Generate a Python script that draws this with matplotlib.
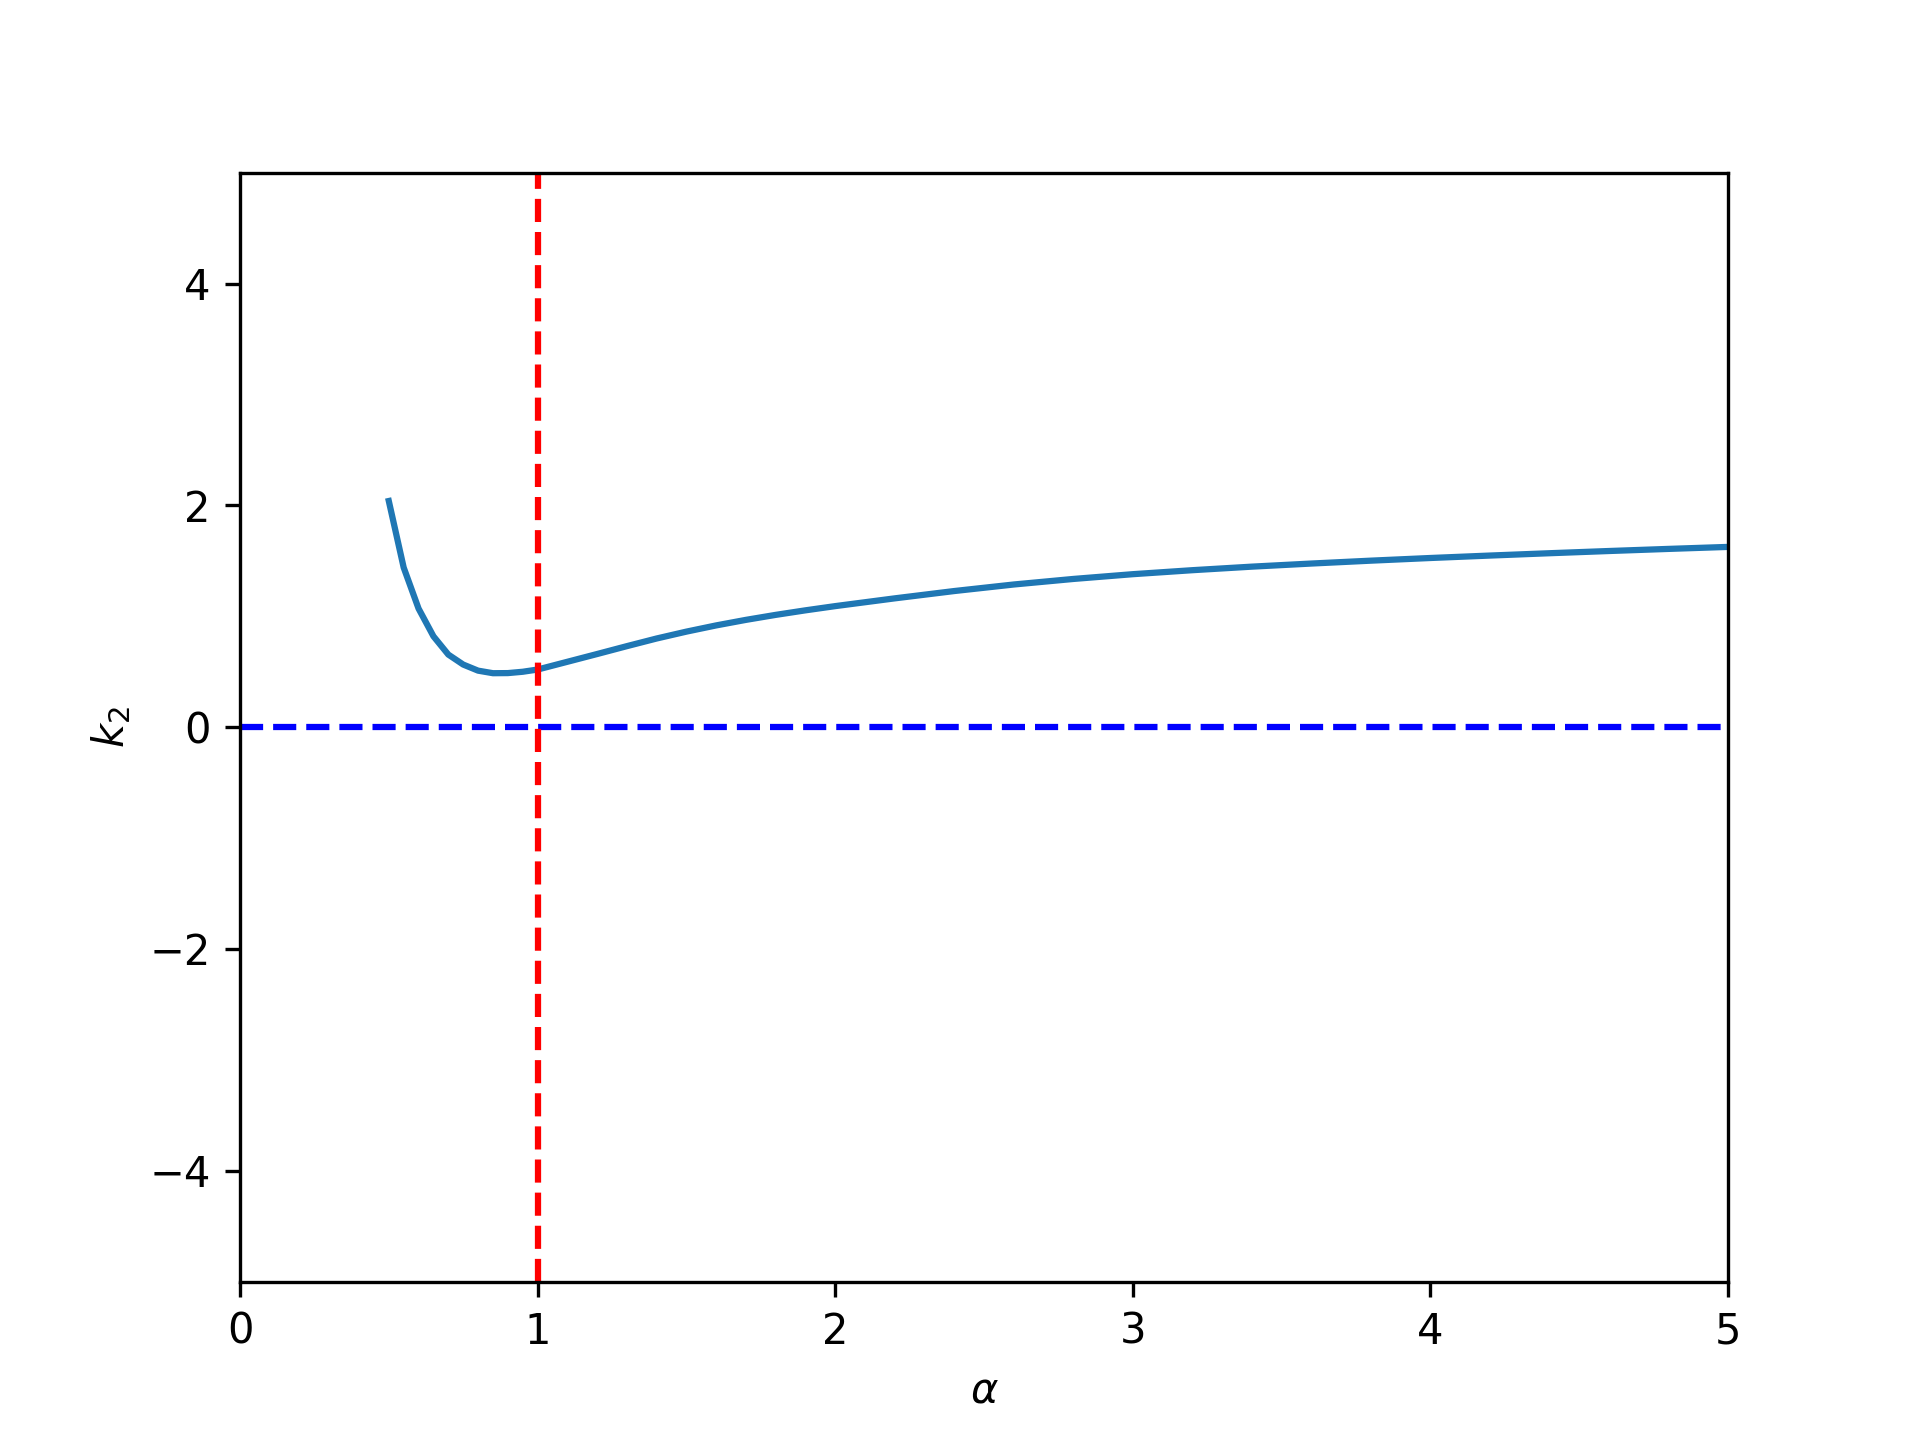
import numpy as np
import matplotlib
matplotlib.use("Agg")
import matplotlib.pyplot as plt

# values
alpha = [0.50, 0.55, 0.60, 0.65, 0.70, 0.75, 0.80, 0.85, 0.90, 0.95, 1.00,
         1.10, 1.20, 1.30, 1.40, 1.50, 1.60, 1.70, 1.80, 1.90, 2.00,
         2.20, 2.40, 2.60, 2.80, 3.00, 3.20, 3.40, 3.60, 3.80,
         4.00, 4.20, 4.40, 4.60, 4.80, 5.00]
k2 = [2.04, 1.44, 1.07, 0.82, 0.655, 0.565, 0.51, 0.487, 0.488, 0.50, 0.52,
      0.59, 0.66, 0.731, 0.80, 0.862, 0.918, 0.968, 1.013, 1.054, 1.092,
      1.162, 1.228, 1.287, 1.337, 1.38, 1.416, 1.448, 1.476, 1.502,
      1.526, 1.548, 1.569, 1.589, 1.608, 1.626]

fig = plt.figure(figsize=(6.4, 4.8), dpi=300)
plt.plot(alpha, k2)
plt.plot([0, 5], [0, 0], 'b--', linewidth=1.5)
plt.plot([1, 1], [-5, 5], 'r--', linewidth=1.5)
plt.xlim(0, 5)
plt.ylim(-5, 5)
plt.xlabel(r'$\alpha$')
plt.ylabel(r'$k_2$')
plt.savefig('out.png', dpi=300)
